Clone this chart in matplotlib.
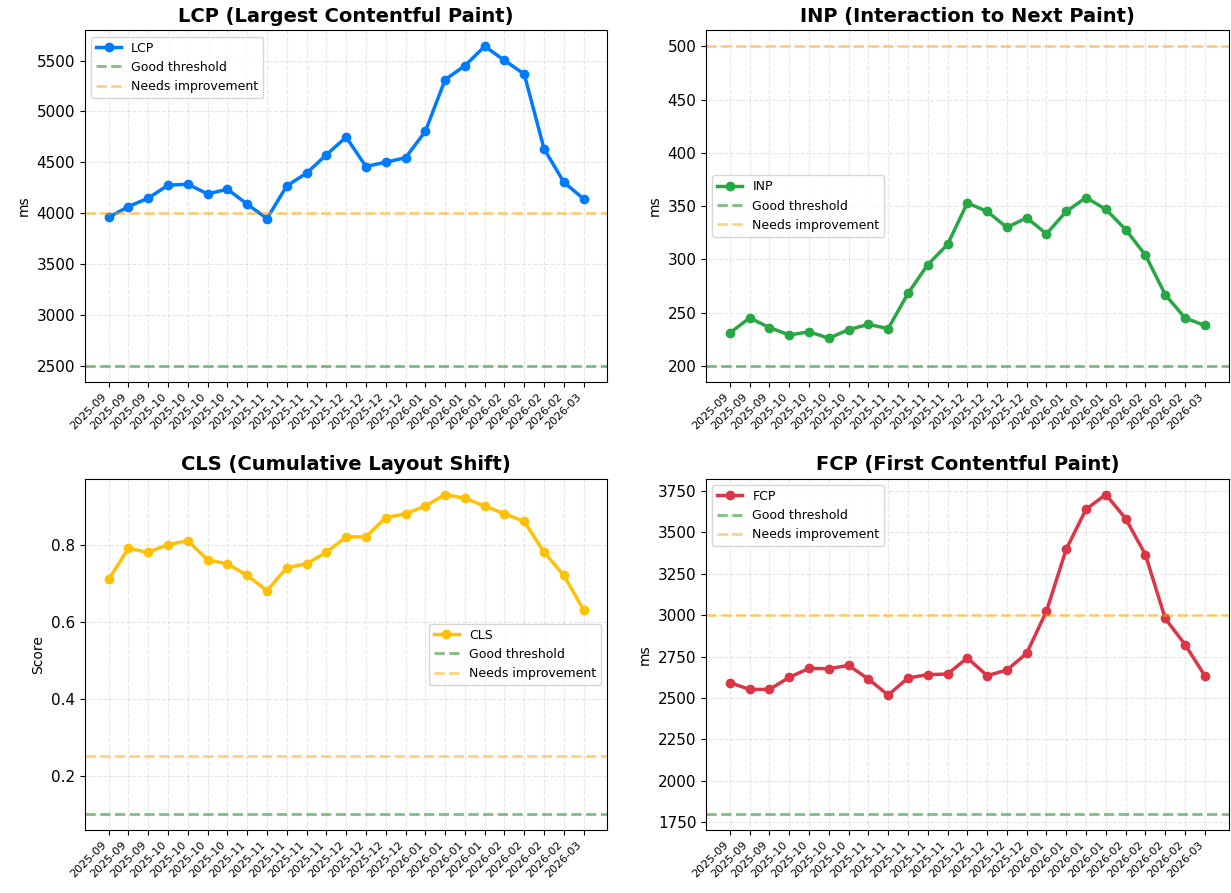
import matplotlib
matplotlib.use("Agg")
import matplotlib.pyplot as plt

dates = ["2025-09"] * 3 + ["2025-10"] * 4 + ["2025-11"] * 5 + ["2025-12"] * 4 + \
        ["2026-01"] * 4 + ["2026-02"] * 4 + ["2026-03"]

lcp = [3960, 4066, 4148, 4276, 4285, 4190, 4236, 4089, 3948, 4269, 4394, 4574, 4748,
       4459, 4502, 4545, 4804, 5312, 5450, 5640, 5502, 5367, 4633, 4305, 4141]
inp = [231, 245, 236, 229, 232, 226, 234, 239, 235, 268, 295, 314, 353, 345, 330, 339,
       324, 345, 358, 347, 328, 304, 267, 245, 238]
cls = [0.71, 0.79, 0.78, 0.80, 0.81, 0.76, 0.75, 0.72, 0.68, 0.74, 0.75, 0.78, 0.82, 0.82,
       0.87, 0.88, 0.90, 0.93, 0.92, 0.90, 0.88, 0.86, 0.78, 0.72, 0.63]
fcp = [2593, 2552, 2552, 2625, 2679, 2677, 2697, 2615, 2518, 2621, 2641, 2645, 2742, 2635,
       2669, 2770, 3024, 3399, 3639, 3728, 3583, 3365, 2980, 2823, 2635]

metrics = [
    ("LCP (Largest Contentful Paint)", "LCP", lcp, "#007bff", "ms", 2500, 4000, "upper left"),
    ("INP (Interaction to Next Paint)", "INP", inp, "#28a745", "ms", 200, 500, "center left"),
    ("CLS (Cumulative Layout Shift)", "CLS", cls, "#ffc107", "Score", 0.1, 0.25, "center right"),
    ("FCP (First Contentful Paint)", "FCP", fcp, "#dc3545", "ms", 1800, 3000, "upper left"),
]

fig, axes = plt.subplots(2, 2, figsize=(12.31, 8.93), dpi=100)
x = list(range(len(dates)))
for ax, (title, name, vals, color, ylabel, good, ni, loc) in zip(axes.flat, metrics):
    ax.plot(x, vals, marker="o", linewidth=2.5, markersize=6, color=color, label=name)
    ax.axhline(good, color="green", linestyle="--", linewidth=2, alpha=0.5, label="Good threshold")
    ax.axhline(ni, color="orange", linestyle="--", linewidth=2, alpha=0.5, label="Needs improvement")
    ax.set_title(title, fontsize=14, fontweight="bold")
    ax.set_ylabel(ylabel)
    ax.set_xticks(x)
    ax.set_xticklabels(dates, rotation=45, ha="right", fontsize=8)
    ax.tick_params(axis="y", labelsize=11)
    ax.grid(True, linestyle="--", alpha=0.3)
    ax.legend(loc=loc, fontsize=9)

fig.subplots_adjust(left=0.069, right=0.998, top=0.966, bottom=0.0705,
                    wspace=0.189, hspace=0.275)
plt.savefig("out.png", dpi=100)
